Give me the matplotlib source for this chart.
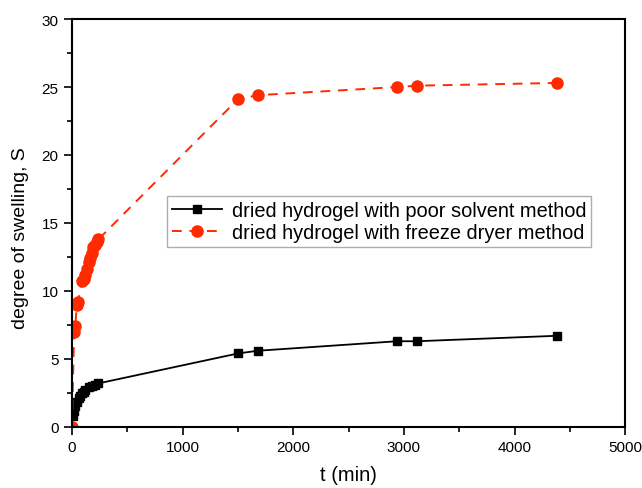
import matplotlib
matplotlib.use('Agg')
import matplotlib.pyplot as plt
from matplotlib.ticker import MultipleLocator

plt.rcParams['font.family'] = ['Liberation Sans', 'DejaVu Sans']

# --- Datos ---
t_poor = [10, 20, 30, 45, 60, 75, 90, 105, 120, 150, 180, 210, 240,
          1500, 1680, 2940, 3120, 4380]
s_poor = [0.8, 1.2, 1.5, 1.8, 2.1, 2.3, 2.5, 2.6, 2.7, 2.9, 3.0, 3.1, 3.2,
          5.4, 5.6, 6.3, 6.3, 6.7]

t_freeze = [0, 20, 30, 45, 55, 90, 105, 120, 135, 150, 165, 180, 195,
            210, 225, 240, 1500, 1680, 2940, 3120, 4380]
s_freeze = [0.0, 7.0, 7.4, 9.0, 9.2, 10.7, 10.9, 11.2, 11.6, 12.1, 12.4,
            12.8, 13.2, 13.4, 13.6, 13.8, 24.1, 24.4, 25.0, 25.1, 25.3]

label_poor = "dried hydrogel with poor solvent method"
label_freeze = "dried hydrogel with freeze dryer method"

fig = plt.figure(figsize=(6.42, 4.89), dpi=100)
ax = fig.add_axes([0.112, 0.125, 0.862, 0.834])

ax.plot(t_poor, s_poor, color='black', linestyle='-', marker='s',
        markersize=6, linewidth=1.3, label=label_poor)
ax.plot(t_freeze, s_freeze, color='#ff2a00', linestyle=(0, (5, 4)),
        marker='o', markersize=8, linewidth=1.4, label=label_freeze)

ax.set_xlim(0, 5000)
ax.set_ylim(0, 30)
ax.xaxis.set_major_locator(MultipleLocator(1000))
ax.xaxis.set_minor_locator(MultipleLocator(500))
ax.yaxis.set_major_locator(MultipleLocator(5))
ax.yaxis.set_minor_locator(MultipleLocator(2.5))
ax.tick_params(which='both', direction='out', labelsize=11, width=1.2)
ax.tick_params(which='major', length=6)
ax.tick_params(which='minor', length=3.5)
for sp in ax.spines.values():
    sp.set_linewidth(1.5)

ax.set_xlabel("t (min)", fontsize=14.5)
ax.set_ylabel("degree of swelling, S", fontsize=14)
ax.xaxis.set_label_coords(0.5, -0.093)
ax.yaxis.set_label_coords(-0.077, 0.466)

leg = ax.legend(loc='upper left', bbox_to_anchor=(0.153, 0.591), fontsize=14.4,
                frameon=True, fancybox=False, edgecolor='#999999',
                handlelength=2.5, borderpad=0.25, labelspacing=0.15,
                handletextpad=0.5)
leg.get_frame().set_linewidth(1.0)

fig.savefig('out.png', dpi=100)
